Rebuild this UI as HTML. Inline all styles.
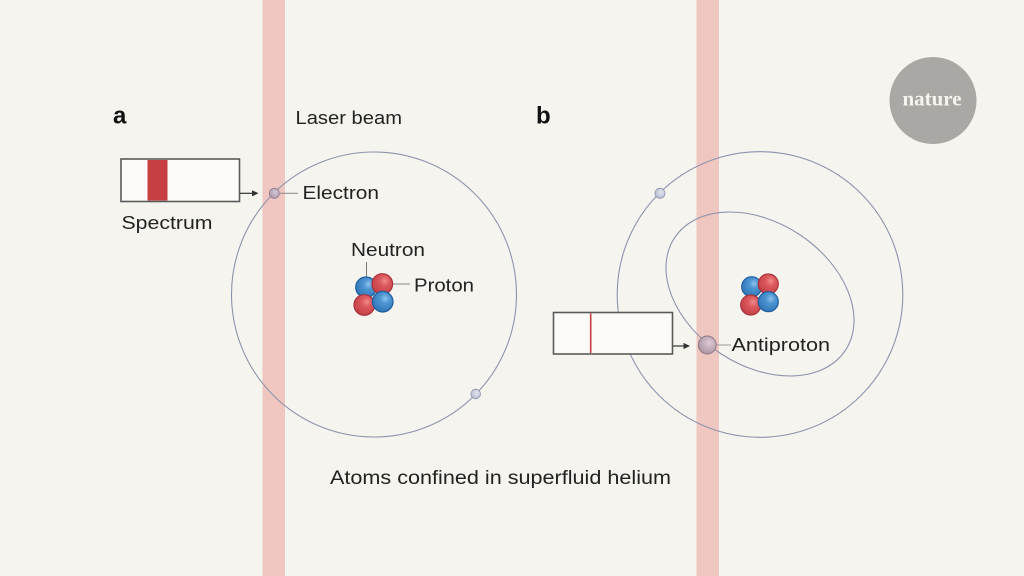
<!DOCTYPE html>
<html><head><meta charset="utf-8"><style>
html,body{margin:0;padding:0;background:#f5f4ee;}
svg{display:block;}
text{font-family:"Liberation Sans",sans-serif;fill:#222;}
</style></head><body>
<svg width="1024" height="576" viewBox="0 0 1024 576" xmlns="http://www.w3.org/2000/svg">
<defs>
<radialGradient id="red" cx="0.62" cy="0.35" r="0.7">
<stop offset="0" stop-color="#f08a8c"/><stop offset="0.35" stop-color="#dc5a5e"/><stop offset="1" stop-color="#c23f45"/>
</radialGradient>
<radialGradient id="blue" cx="0.62" cy="0.35" r="0.7">
<stop offset="0" stop-color="#8cc2ec"/><stop offset="0.35" stop-color="#4d95d2"/><stop offset="1" stop-color="#2f74b6"/>
</radialGradient>
<radialGradient id="anti" cx="0.6" cy="0.38" r="0.7">
<stop offset="0" stop-color="#dccbd4"/><stop offset="1" stop-color="#a88f9f"/>
</radialGradient>
<radialGradient id="el" cx="0.6" cy="0.38" r="0.7">
<stop offset="0" stop-color="#e2e4ee"/><stop offset="1" stop-color="#b4b9cd"/>
</radialGradient>
<radialGradient id="elp" cx="0.6" cy="0.38" r="0.7">
<stop offset="0" stop-color="#d6c8d6"/><stop offset="1" stop-color="#a795a8"/>
</radialGradient>
</defs>
<rect width="1024" height="576" fill="#f5f4ee"/>

<!-- laser beams -->
<rect x="262.5" y="0" width="22.5" height="576" fill="#f0c7c0"/>
<rect x="696.5" y="0" width="22.5" height="576" fill="#f0c7c0"/>

<!-- nature logo -->
<circle cx="933" cy="100.5" r="43.5" fill="#a9a8a4"/>
<text x="902.5" y="105.5" textLength="59" lengthAdjust="spacingAndGlyphs" style="font-family:'Liberation Serif',serif;font-size:21px;fill:#f5f4ee;font-weight:bold">nature</text>

<!-- panel labels -->
<text x="113" y="123.5" style="font-size:24px;font-weight:bold;fill:#111">a</text>
<text x="536" y="123.5" style="font-size:24px;font-weight:bold;fill:#111">b</text>

<text x="295.5" y="124" textLength="106.5" lengthAdjust="spacingAndGlyphs" style="font-size:18.5px">Laser beam</text>

<!-- atom a -->
<circle cx="374" cy="294.5" r="142.5" fill="none" stroke="#8d93ad" stroke-width="1.1"/>
<rect x="121" y="159" width="118.5" height="42.5" fill="#fbfaf6" stroke="#5a5a5a" stroke-width="1.6"/>
<rect x="147.5" y="160" width="20" height="40.5" fill="#c73f42"/>
<line x1="240" y1="193.3" x2="253" y2="193.3" stroke="#333" stroke-width="1.2"/>
<polygon points="258.5,193.3 252,190.2 252,196.4" fill="#333"/>
<text x="121.5" y="229" textLength="91" lengthAdjust="spacingAndGlyphs" style="font-size:18.5px">Spectrum</text>

<line x1="280" y1="193.3" x2="298" y2="193.3" stroke="#888" stroke-width="1"/>
<circle cx="274.3" cy="193.3" r="5" fill="url(#elp)" stroke="#8b7a8d" stroke-width="0.8"/>
<text x="302.5" y="199" textLength="76.5" lengthAdjust="spacingAndGlyphs" style="font-size:18.5px">Electron</text>

<circle cx="475.7" cy="394" r="4.8" fill="url(#el)" stroke="#8d93ad" stroke-width="0.8"/>

<line x1="366.5" y1="262" x2="366.5" y2="279" stroke="#777" stroke-width="1"/>
<text x="351" y="256" textLength="74" lengthAdjust="spacingAndGlyphs" style="font-size:18.5px">Neutron</text>
<line x1="392" y1="284" x2="410" y2="284" stroke="#888" stroke-width="1"/>
<text x="414" y="291.5" textLength="60" lengthAdjust="spacingAndGlyphs" style="font-size:18.5px">Proton</text>

<circle cx="366" cy="287.3" r="10.3" fill="url(#blue)" stroke="#1e5e9f" stroke-width="1.2"/>
<circle cx="382.3" cy="284" r="10.3" fill="url(#red)" stroke="#a8323a" stroke-width="1.2"/>
<circle cx="364.3" cy="305" r="10.3" fill="url(#red)" stroke="#a8323a" stroke-width="1.2"/>
<circle cx="382.7" cy="301.7" r="10.3" fill="url(#blue)" stroke="#1e5e9f" stroke-width="1.2"/>

<!-- atom b -->
<circle cx="760" cy="294.5" r="142.8" fill="none" stroke="#8d93ad" stroke-width="1.1"/>
<ellipse cx="760" cy="294" rx="102.3" ry="71.4" transform="rotate(33.4 760 294)" fill="none" stroke="#8d93ad" stroke-width="1.1"/>
<circle cx="660" cy="193.3" r="5" fill="url(#el)" stroke="#8d93ad" stroke-width="0.8"/>

<circle cx="751.7" cy="286.7" r="10" fill="url(#blue)" stroke="#1e5e9f" stroke-width="1.2"/>
<circle cx="768.3" cy="284" r="10" fill="url(#red)" stroke="#a8323a" stroke-width="1.2"/>
<circle cx="750.7" cy="305" r="10" fill="url(#red)" stroke="#a8323a" stroke-width="1.2"/>
<circle cx="768.3" cy="301.7" r="10" fill="url(#blue)" stroke="#1e5e9f" stroke-width="1.2"/>

<rect x="553.5" y="312.5" width="119" height="41.5" fill="#fbfaf6" stroke="#5a5a5a" stroke-width="1.6"/>
<line x1="590.7" y1="313.5" x2="590.7" y2="353" stroke="#c73f42" stroke-width="1.6"/>
<line x1="673" y1="346" x2="684" y2="346" stroke="#333" stroke-width="1.2"/>
<polygon points="690,346 683.5,342.9 683.5,349.1" fill="#333"/>

<line x1="716" y1="345" x2="731" y2="345" stroke="#999" stroke-width="1"/>
<circle cx="707.3" cy="345" r="9" fill="url(#anti)" stroke="#8a7585" stroke-width="0.9"/>
<text x="731.5" y="350.8" textLength="98.5" lengthAdjust="spacingAndGlyphs" style="font-size:18.5px">Antiproton</text>

<text x="330" y="484" textLength="341" lengthAdjust="spacingAndGlyphs" style="font-size:19px">Atoms confined in superfluid helium</text>
</svg>
</body></html>
